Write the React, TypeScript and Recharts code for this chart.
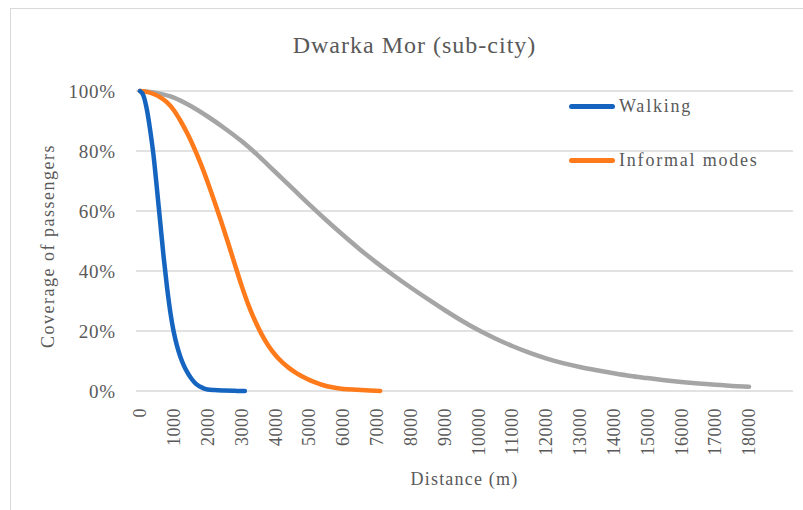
import React from 'react';
import { LineChart, Line, XAxis, YAxis, CartesianGrid, Legend, Label } from 'recharts';

// distance (m) and share of passengers covered (%)
const walkingDist = [0, 100, 200, 300, 400, 500, 600, 700, 800, 900, 1000, 1100, 1200, 1300, 1400, 1500, 1600, 1700, 1800, 1900, 2000, 2200, 2500, 2800, 3100];
const walkingCov = [100, 98.5, 94, 87, 78.5, 67.5, 56, 44.5, 34.5, 26, 19.5, 14.8, 11.2, 8.4, 6.2, 4.4, 3, 2, 1.3, 0.8, 0.5, 0.3, 0.15, 0.05, 0];

const informalDist = [0, 200, 400, 600, 800, 1000, 1200, 1400, 1600, 1800, 2000, 2200, 2400, 2600, 2800, 3000, 3200, 3400, 3600, 3800, 4000, 4200, 4400, 4600, 4800, 5000, 5200, 5400, 5600, 5800, 6000, 6400, 6800, 7100];
const informalCov = [100, 99.7, 99, 97.9, 96.2, 93.6, 90, 85.8, 81, 75.6, 69.6, 63.2, 56.5, 49.5, 42.3, 35.2, 28.8, 23.4, 18.8, 15, 12, 9.6, 7.7, 6.1, 4.8, 3.7, 2.8, 2, 1.4, 1, 0.7, 0.4, 0.15, 0];

const allDist = [0, 500, 1000, 1500, 2000, 2500, 3000, 3500, 4000, 4500, 5000, 5500, 6000, 6500, 7000, 7500, 8000, 8500, 9000, 9500, 10000, 10500, 11000, 11500, 12000, 12500, 13000, 13500, 14000, 14500, 15000, 15500, 16000, 16500, 17000, 17500, 18000];
const allCov = [100, 99.3, 97.8, 95, 91.5, 87.6, 83.3, 78.4, 73, 67.6, 62.2, 57, 52, 47.2, 42.7, 38.5, 34.5, 30.7, 27, 23.5, 20.3, 17.5, 15, 12.8, 10.9, 9.3, 8, 6.9, 5.9, 5, 4.3, 3.6, 3, 2.5, 2.1, 1.7, 1.4];

const legendOrder = ['Walking', 'Informal modes'];

const xTicks = [0, 1000, 2000, 3000, 4000, 5000, 6000, 7000, 8000, 9000, 10000, 11000, 12000, 13000, 14000, 15000, 16000, 17000, 18000];
const yTicks = [0, 20, 40, 60, 80, 100];

const toPoints = (xs: number[], ys: number[]) => xs.map((d, i) => ({ d, v: ys[i] }));

const FONT = '"Liberation Serif", "Times New Roman", serif';
const TEXT = '#595959';

function XTick({ x, y, payload }: any) {
  const ty = y + 9;
  return (
    <text x={x} y={ty} transform={`rotate(-90 ${x} ${ty})`} textAnchor="end" dy="0.35em"
      fill={TEXT} fontSize={18} fontFamily={FONT} letterSpacing={0.5}>
      {payload.value}
    </text>
  );
}

function YTick({ x, y, payload }: any) {
  return (
    <text x={x - 12} y={y} textAnchor="end" dy="0.35em" fill={TEXT} fontSize={19} fontFamily={FONT} letterSpacing={0.8}>
      {payload.value}%
    </text>
  );
}

function LegendBox({ payload }: any) {
  const items = legendOrder
    .map((name) => (payload || []).find((p: any) => p.value === name))
    .filter(Boolean);
  return (
    <div style={{ fontFamily: FONT, fontSize: 18, color: TEXT, letterSpacing: 1.8 }}>
      {items.map((p: any) => (
        <div key={p.value} style={{ display: 'flex', alignItems: 'center', height: 54 }}>
          <span style={{ display: 'inline-block', width: 46, height: 5, borderRadius: 3, background: p.color, marginRight: 4 }} />
          <span>{p.value}</span>
        </div>
      ))}
    </div>
  );
}

export default function App() {
  return (
    <div style={{ position: 'fixed', left: 0, top: 0, width: 803, height: 510, background: '#fff', overflow: 'hidden' }}>
      <div style={{ position: 'absolute', left: 10, top: 8, width: 900, height: 600, border: '1.5px solid #d9d9d9' }} />
      <div style={{ position: 'absolute', left: 136, width: 557, top: 32, textAlign: 'center', fontFamily: FONT, fontSize: 24, color: TEXT, letterSpacing: 1 }}>
        Dwarka Mor (sub-city)
      </div>
      <div style={{ position: 'absolute', left: 0, top: 0 }}>
        <LineChart width={803} height={510} margin={{ top: 91, right: 10, left: 0, bottom: 0 }}>
          <CartesianGrid vertical={false} stroke="#d9d9d9" strokeWidth={1.5} />
          <XAxis type="number" dataKey="d" domain={[0, 19300]} ticks={xTicks} interval={0}
            padding={{ left: 4, right: 0 }} axisLine={false} tickLine={false} height={119} tick={<XTick />}>
            <Label content={({ viewBox }: any) => (
              <text x={viewBox.x + viewBox.width / 2} y={viewBox.y + 94} textAnchor="middle"
                fill={TEXT} fontSize={18} fontFamily={FONT} letterSpacing={1.2}>Distance (m)</text>
            )} />
          </XAxis>
          <YAxis type="number" domain={[0, 100]} ticks={yTicks} interval={0} width={136}
            axisLine={false} tickLine={false} tick={<YTick />}>
            <Label content={({ viewBox }: any) => {
              const cx = viewBox.x + 54;
              const cy = viewBox.y + viewBox.height / 2 + 5;
              return (
                <text x={cx} y={cy} transform={`rotate(-90 ${cx} ${cy})`} textAnchor="middle"
                  fill={TEXT} fontSize={18} fontFamily={FONT} letterSpacing={1.5}>Coverage of passengers</text>
              );
            }} />
          </YAxis>
          <Legend layout="horizontal" verticalAlign="middle" align="center" content={<LegendBox />}
            wrapperStyle={{ position: 'absolute', left: 569, top: 79, width: 230 }} />
          <Line data={toPoints(allDist, allCov)} dataKey="v" name="All modes" type="monotone" stroke="#a5a5a5"
            strokeWidth={4.5} dot={false} strokeLinecap="round" isAnimationActive={false} />
          <Line data={toPoints(informalDist, informalCov)} dataKey="v" name="Informal modes" type="monotone" stroke="#ff7a1a"
            strokeWidth={4.5} dot={false} strokeLinecap="round" isAnimationActive={false} />
          <Line data={toPoints(walkingDist, walkingCov)} dataKey="v" name="Walking" type="monotone" stroke="#1565c0"
            strokeWidth={4.5} dot={false} strokeLinecap="round" isAnimationActive={false} />
        </LineChart>
      </div>
    </div>
  );
}
